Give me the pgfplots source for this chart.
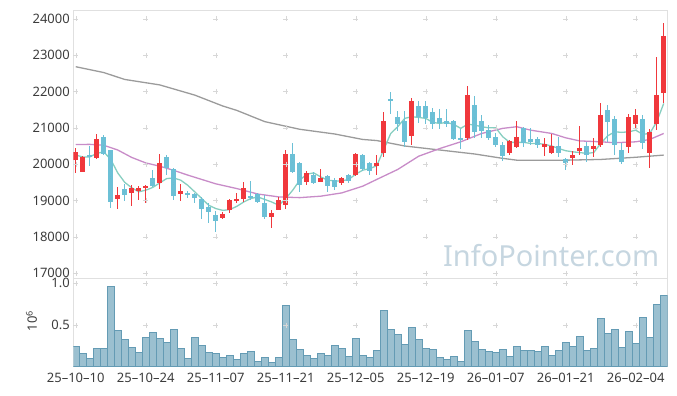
\documentclass[border=0pt]{standalone}
\usepackage{pgfplots}
\pgfplotsset{compat=1.18}
\usepackage{pgfplotstable}
\usepackage{fontspec}
\setmainfont{Noto Sans}
\definecolor{upred}{RGB}{240,56,60}
\definecolor{dnblue}{RGB}{108,192,214}
\definecolor{maA}{RGB}{135,206,192}
\definecolor{maB}{RGB}{200,140,200}
\definecolor{maC}{RGB}{155,155,155}
\definecolor{volfill}{RGB}{155,192,208}
\definecolor{voledge}{RGB}{100,155,180}
\definecolor{framec}{RGB}{224,224,224}
\definecolor{tickc}{RGB}{60,60,60}
\definecolor{wmc}{RGB}{198,214,224}
\definecolor{crossc}{RGB}{215,215,215}

\pgfplotstableread{
i o h l c
0 20110 20440 19750 20330
1 19790 20230 19780 20200
2 20240 20490 19950 20220
3 20170 20820 20130 20690
4 20735 20800 20250 20270
5 20385 20400 18790 18960
6 19045 19375 18780 19140
7 19330 19450 19000 19150
8 19210 19420 18840 19340
9 19250 19410 19010 19340
10 19340 19420 18945 19390
11 19610 19830 19380 19400
12 19470 20280 19330 20040
13 20200 20250 19700 19900
14 19880 19890 19010 19120
15 19190 19450 18980 19255
16 19210 19255 19070 19140
17 19190 19220 18920 19070
18 19055 19100 18480 18780
19 18810 18920 18370 18690
20 18595 18710 18135 18440
21 18520 18690 18480 18640
22 18750 19035 18660 19010
23 18980 19220 18935 19045
24 19030 19505 18960 19340
25 19120 19550 19010 19070
26 19190 19210 18920 18960
27 18920 19150 18480 18550
28 18550 18730 18240 18670
29 18750 19100 18730 19010
30 18870 20400 18780 20275
31 20275 20570 19750 19790
32 20020 20060 19240 19420
33 19510 19810 19420 19770
34 19700 19790 19450 19470
35 19510 19860 19510 19610
36 19670 19700 19240 19390
37 19560 19610 19285 19380
38 19470 19650 19440 19630
39 19700 19720 19470 19535
40 19700 20310 19680 20275
41 20250 20290 19800 19855
42 20020 20060 19700 19815
43 19945 20265 19715 20040
44 20310 21440 20200 21185
45 21790 21990 21370 21760
46 21290 21470 20920 21100
47 21185 21470 20475 20615
48 20780 21830 20525 21735
49 21600 21735 21140 21290
50 21600 21735 21100 21260
51 21425 21550 20960 21095
52 21260 21530 20980 21120
53 21185 21515 21030 21100
54 21195 21210 20660 20680
55 20720 20980 20430 20690
56 20725 22150 20660 21900
57 21625 21880 20710 20890
58 21185 21350 20725 20920
59 20935 21075 20660 20725
60 20750 20845 20475 20540
61 20540 20615 20080 20230
62 20310 20660 20250 20635
63 20480 21185 20450 20750
64 21000 21030 20475 20570
65 20690 21000 20540 20600
66 20690 20750 20450 20520
67 20475 20725 20230 20550
68 20310 20820 20270 20500
69 20500 20750 20200 20310
70 20140 20175 19835 20020
71 20175 20360 19990 20265
72 20360 21045 20265 20450
73 20495 20615 20065 20265
74 20410 20725 20200 20495
75 20525 21670 20475 21350
76 21490 21625 20615 21170
77 21250 21330 20240 20530
78 20385 20570 20000 20065
79 20475 21380 20295 21285
80 21100 21505 21000 21350
81 21240 21350 20430 20570
82 20320 20980 19900 20890
83 21095 22940 20935 21900
84 21965 23875 21670 23525
}\ohlc

\pgfplotstableread{
i v
0 0.244
1 0.16
2 0.10
3 0.22
4 0.22
5 0.968
6 0.436
7 0.328
8 0.232
9 0.172
10 0.352
11 0.412
12 0.34
13 0.296
14 0.448
15 0.22
16 0.10
17 0.352
18 0.256
19 0.172
20 0.16
21 0.112
22 0.136
23 0.088
24 0.16
25 0.184
26 0.064
27 0.112
28 0.052
29 0.112
30 0.736
31 0.328
32 0.208
33 0.136
34 0.10
35 0.16
36 0.136
37 0.256
38 0.22
39 0.124
40 0.34
41 0.136
42 0.112
43 0.196
44 0.676
45 0.448
46 0.388
47 0.268
48 0.472
49 0.328
50 0.22
51 0.208
52 0.112
53 0.088
54 0.124
55 0.064
56 0.436
57 0.304
58 0.208
59 0.184
60 0.172
61 0.208
62 0.124
63 0.244
64 0.196
65 0.196
66 0.184
67 0.244
68 0.136
69 0.196
70 0.292
71 0.244
72 0.364
73 0.196
74 0.22
75 0.58
76 0.40
77 0.448
78 0.232
79 0.424
80 0.28
81 0.592
82 0.352
83 0.752
84 0.856
}\vol

\pgfplotstableread{
i v
0 20250
1 20200
2 20200
3 20295
4 20340
5 20130
6 19760
7 19500
8 19350
9 19240
10 19285
11 19360
12 19485
13 19605
14 19620
15 19560
16 19420
17 19240
18 19055
19 18870
20 18780
21 18730
22 18750
23 18840
24 18960
25 19055
26 19100
27 19030
28 18960
29 18870
30 19055
31 19285
32 19560
33 19725
34 19760
35 19650
36 19560
37 19540
38 19540
39 19580
40 19725
41 19835
42 19880
43 19955
44 20400
45 20845
46 21030
47 21260
48 21305
49 21285
50 21260
51 21150
52 21120
53 21150
54 21095
55 20985
56 21100
57 21075
58 21030
59 21000
60 21000
61 20755
62 20600
63 20600
64 20600
65 20570
66 20570
67 20545
68 20500
69 20430
70 20370
71 20340
72 20320
73 20295
74 20320
75 20570
76 20780
77 20890
78 20875
79 20890
80 20935
81 20820
82 20845
83 21165
84 21670
}\maA

\pgfplotstableread{
i v
0 20540
2 20545
4 20520
6 20390
8 20185
10 20035
12 19945
14 19830
16 19700
18 19580
20 19460
23 19330
26 19180
29 19100
32 19080
35 19120
38 19210
41 19395
43 19580
46 19855
49 20220
52 20430
55 20615
58 20845
61 20985
63 21030
65 20935
68 20845
70 20725
72 20640
75 20615
77 20590
80 20615
82 20680
84 20845
}\maB

\pgfplotstableread{
i v
0 22680
4 22520
7 22330
12 22180
17 21900
21 21600
23 21480
27 21170
32 20960
37 20830
41 20680
43 20650
47 20500
52 20390
57 20280
61 20160
63 20110
70 20110
75 20130
80 20190
84 20250
}\maC

\pgfplotsset{
  candlewick/.style={only marks, mark=*, mark size=0pt, mark options={draw=none, fill=none}, forget plot,
    /pgfplots/error bars/y dir=both, /pgfplots/error bars/y explicit,
    /pgfplots/error bars/error mark=none,
    /pgfplots/error bars/error bar style={draw=#1, line width=1.2pt}},
  candlebody/.style={only marks, mark=*, mark size=0pt, mark options={draw=none, fill=none}, forget plot,
    /pgfplots/error bars/y dir=both, /pgfplots/error bars/y explicit,
    /pgfplots/error bars/error mark=none,
    /pgfplots/error bars/error bar style={draw=#1, line width=5pt}},
}

\begin{document}
\begin{tikzpicture}
\path[use as bounding box] (-73.3pt,10pt) rectangle (603.7pt,-386pt);
\begin{axis}[name=main, at={(0pt,0pt)}, anchor=north west, scale only axis,
  width=594.4pt, height=268pt,
  xmin=-0.35, xmax=84.57, ymin=16870, ymax=24240,
  xtick={0,10,...,80}, xticklabels={},
  ytick={17000,18000,...,24000},
  major tick length=0pt,
  axis line style={draw=framec, line width=0.8pt},
  yticklabel style={font=\fontsize{13}{14}\selectfont, text=tickc},
  scaled y ticks=false,
  /pgf/number format/.cd, 1000 sep={}, assume math mode=true]
  \pgfplotsinvokeforeach{0,10,...,80}{
    \addplot[only marks, mark=+, mark size=2.5pt, color=crossc, forget plot]
      coordinates {(#1,17000) (#1,18000) (#1,19000) (#1,20000) (#1,21000) (#1,22000) (#1,23000) (#1,24000)};
  }
  \node[font=\fontsize{29}{29}\selectfont, text=wmc, anchor=center] at (rel axis cs:0.804,0.084) {InfoPointer.com};
  \addplot[maC, line width=1.3pt, forget plot] table[x=i,y=v] {\maC};
  \addplot[maB, line width=1.3pt, forget plot] table[x=i,y=v] {\maB};
  \addplot[maA, line width=1.3pt, forget plot] table[x=i,y=v] {\maA};
  % up candles
  \addplot[candlewick=upred, restrict expr to domain={\thisrow{c}-\thisrow{o}}{0:100000}]
    table[x=i, y expr={(\thisrow{h}+\thisrow{l})/2},
      y error plus expr={(\thisrow{h}-\thisrow{l})/2},
      y error minus expr={(\thisrow{h}-\thisrow{l})/2}] {\ohlc};
  \addplot[candlebody=upred, restrict expr to domain={\thisrow{c}-\thisrow{o}}{0:100000}]
    table[x=i, y expr={(\thisrow{o}+\thisrow{c})/2},
      y error plus expr={(\thisrow{c}-\thisrow{o})/2},
      y error minus expr={(\thisrow{c}-\thisrow{o})/2}] {\ohlc};
  % down candles
  \addplot[candlewick=dnblue, restrict expr to domain={\thisrow{o}-\thisrow{c}}{0.001:100000}]
    table[x=i, y expr={(\thisrow{h}+\thisrow{l})/2},
      y error plus expr={(\thisrow{h}-\thisrow{l})/2},
      y error minus expr={(\thisrow{h}-\thisrow{l})/2}] {\ohlc};
  \addplot[candlebody=dnblue, restrict expr to domain={\thisrow{o}-\thisrow{c}}{0.001:100000}]
    table[x=i, y expr={(\thisrow{o}+\thisrow{c})/2},
      y error plus expr={(\thisrow{o}-\thisrow{c})/2},
      y error minus expr={(\thisrow{o}-\thisrow{c})/2}] {\ohlc};
\end{axis}
\begin{axis}[at={(0pt,-268pt)}, anchor=north west, scale only axis,
  width=594.4pt, height=88.7pt,
  xmin=-0.35, xmax=84.57, ymin=0, ymax=1.064,
  xtick={0,10,...,80},
  xticklabels={25\textendash10\textendash10,25\textendash10\textendash24,25\textendash11\textendash07,25\textendash11\textendash21,25\textendash12\textendash05,25\textendash12\textendash19,26\textendash01\textendash07,26\textendash01\textendash21,26\textendash02\textendash04},
  ytick={0.5,1.0}, yticklabels={0.5,1.0},
  major tick length=0pt,
  axis line style={draw=framec, line width=0.8pt},
  yticklabel style={font=\fontsize{13}{14}\selectfont, text=tickc},
  xticklabel style={font=\fontsize{13}{14}\selectfont, text=tickc, yshift=-2.5pt},
  ylabel={10\textsuperscript{6}},
  ylabel style={at={(rel axis cs:-0.0703,0.515)}, anchor=center, font=\fontsize{13}{14}\selectfont, text=tickc}]
  \pgfplotsinvokeforeach{0,10,...,80}{
    \addplot[only marks, mark=+, mark size=2.5pt, color=crossc, forget plot]
      coordinates {(#1,0.5) (#1,1.0)};
  }
  \addplot[ybar, bar width=1, fill=volfill, draw=voledge, line width=0.6pt] table[x=i,y=v] {\vol};
\end{axis}
\end{tikzpicture}
\end{document}
